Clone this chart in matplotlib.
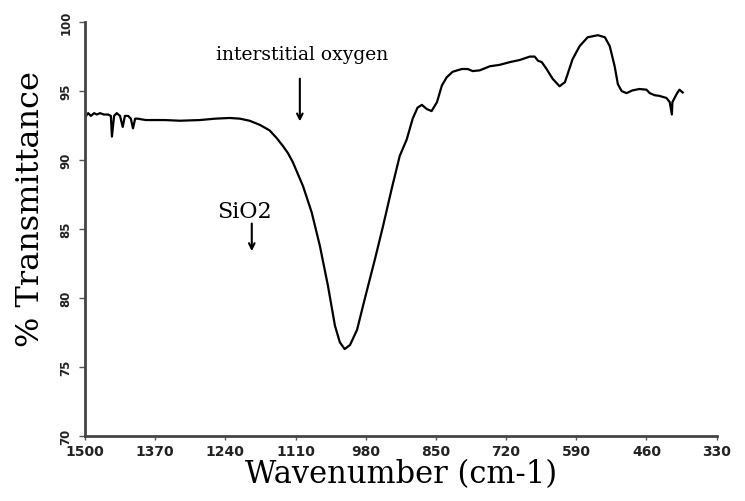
import numpy as np
import matplotlib
matplotlib.use("Agg")
import matplotlib.pyplot as plt

# IR spectrum
wavenumber = [1500, 1494, 1489, 1483, 1478, 1472, 1465, 1457, 1452, 1450,
              1446, 1441, 1435, 1430, 1426, 1420, 1415, 1411, 1407, 1402,
              1395, 1387, 1380, 1370, 1352, 1324, 1287, 1259, 1232, 1213,
              1195, 1176, 1158, 1145, 1133, 1124, 1115, 1096, 1080, 1065,
              1050, 1037, 1028, 1019, 1009, 996, 982, 963, 948, 932,
              917, 904, 893, 884, 876, 867, 858, 848, 839, 830,
              819, 802, 791, 782, 769, 750, 732, 713, 695, 676,
              667, 661, 654, 645, 634, 621, 611, 597, 584, 569,
              550, 537, 528, 519, 513, 506, 497, 486, 473, 460,
              454, 445, 436, 423, 417, 413, 412, 404, 399, 393]
transmittance = [93.1, 93.4, 93.2, 93.4, 93.3, 93.4, 93.3, 93.3, 93.2, 91.7,
                 93.2, 93.4, 93.2, 92.4, 93.2, 93.2, 93.0, 92.3, 93.0, 93.0,
                 92.95, 92.9, 92.9, 92.9, 92.9, 92.85, 92.9, 93.0, 93.05, 93.0,
                 92.85, 92.55, 92.15, 91.6, 91.0, 90.5, 89.85, 88.1, 86.2, 83.8,
                 80.9, 78.0, 76.8, 76.3, 76.6, 77.7, 79.9, 82.8, 85.2, 87.9,
                 90.3, 91.5, 93.0, 93.8, 94.0, 93.7, 93.55, 94.2, 95.4, 96.0,
                 96.4, 96.6, 96.6, 96.45, 96.5, 96.8, 96.9, 97.1, 97.25, 97.5,
                 97.5, 97.2, 97.1, 96.6, 95.9, 95.35, 95.65, 97.3, 98.25, 98.9,
                 99.05, 98.9, 98.25, 96.8, 95.5, 95.0, 94.85, 95.05, 95.15, 95.1,
                 94.85, 94.7, 94.65, 94.5, 94.2, 93.3, 94.2, 94.8, 95.1, 94.9]

x_ticks = [1500, 1370, 1240, 1110, 980, 850, 720, 590, 460, 330]
x_ticklabels = ['1500', '1370', '1240', '1110', '980', '850', '720', '590', '460', '330']
y_ticks = [70, 75, 80, 85, 90, 95, 100]

fig = plt.figure(figsize=(7.45, 5.02), dpi=100)
ax = fig.add_axes([0.114, 0.1295, 0.848, 0.8245])

ax.plot(wavenumber, transmittance, color='black', lw=1.6)

ax.set_xlim(1500, 330)
ax.set_ylim(70, 100)
ax.set_xticks(x_ticks)
ax.set_xticklabels(x_ticklabels, fontsize=10, fontweight='bold', color='#222222')
ax.set_yticks(y_ticks)
ax.set_yticklabels([str(v) for v in y_ticks], fontsize=8.5, fontweight='bold',
                   rotation=90, va='center', color='#222222')
ax.tick_params(axis='x', length=3, width=1, pad=3, color='#555555')
ax.tick_params(axis='y', length=4, width=1, pad=5, color='#555555')

for side in ['top', 'right']:
    ax.spines[side].set_visible(False)
for side in ['left', 'bottom']:
    ax.spines[side].set_linewidth(2)
    ax.spines[side].set_color('#444444')

ax.set_xlabel('Wavenumber (cm-1)', fontsize=22, family='DejaVu Serif', labelpad=0)
ax.set_ylabel('% Transmittance', fontsize=23, family='DejaVu Serif')
ax.yaxis.set_label_coords(-0.062, 0.55)

ax.text(1098, 97.7, 'interstitial oxygen', fontsize=13.5, family='DejaVu Serif',
        ha='center', va='center')
ax.annotate('', xy=(1102, 92.6), xytext=(1102, 96.1),
            arrowprops=dict(arrowstyle='->', lw=1.5, color='black'))

ax.text(1204, 86.3, 'SiO2', fontsize=16, family='DejaVu Serif',
        ha='center', va='center')
ax.annotate('', xy=(1191, 83.2), xytext=(1191, 85.6),
            arrowprops=dict(arrowstyle='->', lw=1.5, color='black'))

fig.savefig('out.png', dpi=100)
